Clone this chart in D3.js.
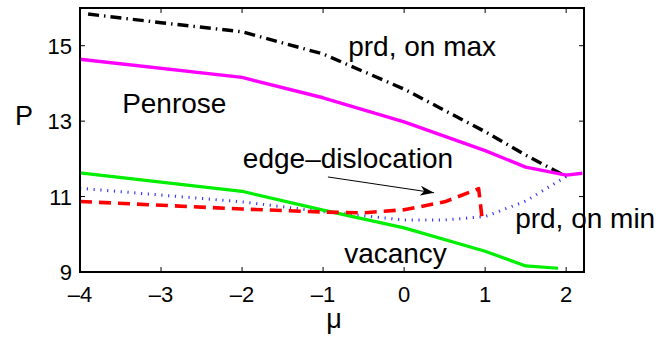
<!DOCTYPE html>
<html>
<head>
<meta charset="utf-8">
<script src="https://cdn.jsdelivr.net/npm/d3@7"></script>
<style>
  body { margin: 0; background: #fff; }
  text { font-family: "Liberation Sans", Arial, sans-serif; }
</style>
</head>
<body>
<div id="chart"></div>
<script>
// tamaño y márgenes
const width = 672;
const height = 339;
const margin = { top: 8, right: 88, bottom: 67, left: 80 };

// datos
const muMax = [-3.9, -3, -2, -1, 0, 1, 1.5, 2];
const pMax = [15.84, 15.61, 15.37, 14.78, 13.85, 12.72, 12.1, 11.53];

const muPenrose = [-4, -2, -1, 0, 1, 1.5, 2, 2.2];
const pPenrose = [14.64, 14.16, 13.62, 12.98, 12.22, 11.78, 11.57, 11.62];

const muVacancy = [-4, -2, -1, 0, 1, 1.5, 1.9];
const pVacancy = [11.63, 11.14, 10.64, 10.17, 9.55, 9.16, 9.1];

const muEdge = [-4, -2, -1, -0.5, 0, 0.5, 0.92, 0.96];
const pEdge = [10.87, 10.67, 10.59, 10.57, 10.65, 10.86, 11.21, 10.46];

const muMin = [-4, -3, -2, -1, 0, 0.5, 1, 1.5, 2];
const pMin = [11.22, 11.04, 10.86, 10.6, 10.38, 10.38, 10.47, 10.88, 11.53];

const xTicks = [-4, -3, -2, -1, 0, 1, 2];
const yTicks = [9, 11, 13, 15];

const svg = d3.select("#chart")
    .append("svg")
    .attr("width", width)
    .attr("height", height);

svg.append("rect").attr("width", width).attr("height", height).attr("fill", "#fff");

const x = d3.scaleLinear()
    .domain([-4, 2.22])
    .range([margin.left, width - margin.right]);

const y = d3.scaleLinear()
    .domain([9, 16])
    .range([height - margin.bottom, margin.top]);

const line = d3.line()
    .x(d => x(d[0]))
    .y(d => y(d[1]));

const series = [
    { mu: muMin, p: pMin, color: "#3a3aff", w: 3, dash: "1.2,5.6" },
    { mu: muVacancy, p: pVacancy, color: "#00ee00", w: 3.2, dash: null },
    { mu: muEdge, p: pEdge, color: "#ff0000", w: 3.6, dash: "12,7" },
    { mu: muMax, p: pMax, color: "#000", w: 3.4, dash: "11,5,1.5,5" },
    { mu: muPenrose, p: pPenrose, color: "#ff00ff", w: 3.4, dash: null }
];

series.forEach(s => {
    svg.append("path")
        .datum(s.mu.map((m, i) => [m, s.p[i]]))
        .attr("d", line)
        .attr("fill", "none")
        .attr("stroke", s.color)
        .attr("stroke-width", s.w)
        .attr("stroke-dasharray", s.dash)
        .attr("stroke-linejoin", "round");
});

// flecha
svg.append("defs").append("marker")
    .attr("id", "head")
    .attr("viewBox", "0 0 14 10")
    .attr("refX", 14)
    .attr("refY", 5)
    .attr("markerWidth", 14)
    .attr("markerHeight", 10)
    .attr("markerUnits", "userSpaceOnUse")
    .attr("orient", "auto")
    .append("path")
    .attr("d", "M0,0 L14,5 L0,10 L4,5 Z")
    .attr("fill", "#000");

svg.append("line")
    .attr("x1", x(-0.94)).attr("y1", y(11.52))
    .attr("x2", x(0.37)).attr("y2", y(11.1))
    .attr("stroke", "#000")
    .attr("stroke-width", 1)
    .attr("marker-end", "url(#head)");

// etiquetas
const labels = [
    { t: "prd, on max", mu: -0.69, p: 14.72 },
    { t: "Penrose", mu: -3.48, p: 13.22 },
    { t: "edge\u2013dislocation", mu: -1.99, p: 11.76 },
    { t: "prd, on min", mu: 1.37, p: 10.17 },
    { t: "vacancy", mu: -0.74, p: 9.24 }
];

labels.forEach(l => {
    svg.append("text")
        .attr("x", x(l.mu))
        .attr("y", y(l.p))
        .style("font-size", "28px")
        .attr("fill", "#000")
        .text(l.t);
});

// ejes con marcas hacia dentro en los cuatro lados
const x0 = margin.left, x1 = width - margin.right;
const y0 = height - margin.bottom, y1 = margin.top;
const tick = 5;

xTicks.forEach(v => {
    svg.append("line").attr("x1", x(v)).attr("x2", x(v)).attr("y1", y0).attr("y2", y0 - tick)
        .attr("stroke", "#000").attr("stroke-width", 1);
    svg.append("line").attr("x1", x(v)).attr("x2", x(v)).attr("y1", y1).attr("y2", y1 + tick)
        .attr("stroke", "#000").attr("stroke-width", 1);
    svg.append("text")
        .attr("x", x(v))
        .attr("y", y0 + 30)
        .attr("text-anchor", "middle")
        .style("font-size", "22px")
        .text(v < 0 ? "\u2013" + Math.abs(v) : v);
});

yTicks.forEach(v => {
    svg.append("line").attr("x1", x0).attr("x2", x0 + tick).attr("y1", y(v)).attr("y2", y(v))
        .attr("stroke", "#000").attr("stroke-width", 1);
    svg.append("line").attr("x1", x1).attr("x2", x1 - tick).attr("y1", y(v)).attr("y2", y(v))
        .attr("stroke", "#000").attr("stroke-width", 1);
    svg.append("text")
        .attr("x", x0 - 8)
        .attr("y", y(v) + 8)
        .attr("text-anchor", "end")
        .style("font-size", "22px")
        .text(v);
});

svg.append("rect")
    .attr("x", x0).attr("y", y1)
    .attr("width", x1 - x0).attr("height", y0 - y1)
    .attr("fill", "none")
    .attr("stroke", "#000")
    .attr("stroke-width", 2);

svg.append("text")
    .attr("x", 24).attr("y", 125)
    .attr("text-anchor", "middle")
    .style("font-size", "27px")
    .text("P");

svg.append("text")
    .attr("x", (x0 + x1) / 2 + 2).attr("y", 328)
    .attr("text-anchor", "middle")
    .style("font-size", "27px")
    .text("\u03bc");
</script>
</body>
</html>
